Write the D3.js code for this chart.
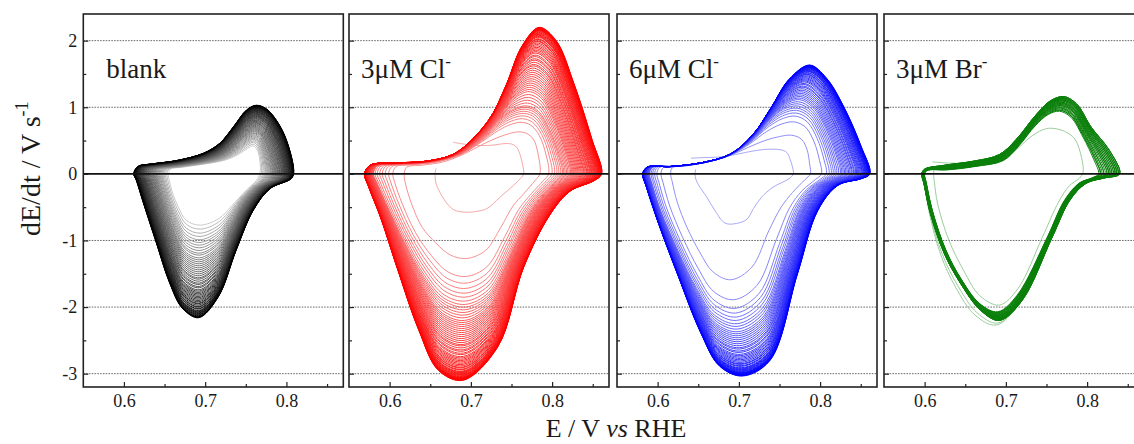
<!DOCTYPE html>
<html>
<head>
<meta charset="utf-8">
<script src="https://cdn.jsdelivr.net/npm/d3@7"></script>
<style>
  body { margin: 0; background: #fff; }
  svg { display: block; }
  text { font-family: "Liberation Serif", Tinos, "Times New Roman", Times, "Nimbus Roman", "DejaVu Serif", "Noto Serif", serif; fill: #1a1a1a; }
</style>
</head>
<body>
<svg id="chart" width="1134" height="444"></svg>
<script>
// ---------------------------------------------------------------
// Axis ticks and panel names
// ---------------------------------------------------------------
const xTicks = [0.6, 0.7, 0.8];
const xMinorTicks = [0.65, 0.75, 0.85];
const yTicks = [-3, -2, -1, 0, 1, 2];
const yMinorTicks = [-2.5, -1.5, -0.5, 0.5, 1.5];
const panelNames = ["blank", "3\u03BCM Cl", "6\u03BCM Cl", "3\u03BCM Br"];
const panelCharges = ["", "-", "-", "-"];

// ---------------------------------------------------------------
// Oscillation loops, [E (V vs RHE), dE/dt (V/s)].
// Each loop runs from its left turning point along the anodic
// branch, round the right turning point and back along the
// cathodic branch (24 matching points per loop).
// ---------------------------------------------------------------

// blank
const blankFirst = [[0.655,0.00],[0.657,0.07],[0.672,0.10],[0.695,0.14],[0.715,0.18],[0.728,0.22],[0.742,0.30],[0.752,0.38],[0.759,0.42],[0.764,0.36],[0.767,0.22],[0.768,0.08],[0.767,0.00],[0.763,-0.10],[0.751,-0.24],[0.741,-0.37],[0.732,-0.49],[0.717,-0.67],[0.694,-0.77],[0.677,-0.70],[0.667,-0.50],[0.661,-0.33],[0.657,-0.16],[0.655,-0.05]];
const blankLast = [[0.612,0.00],[0.617,0.11],[0.635,0.15],[0.665,0.20],[0.698,0.31],[0.718,0.46],[0.735,0.71],[0.751,0.96],[0.763,1.03],[0.776,0.97],[0.792,0.72],[0.803,0.40],[0.809,0.02],[0.806,-0.07],[0.780,-0.22],[0.759,-0.55],[0.738,-1.15],[0.716,-1.85],[0.692,-2.16],[0.672,-2.02],[0.656,-1.63],[0.640,-1.04],[0.624,-0.44],[0.615,-0.09]];
const blankStart = [];
// cathodic minimum of every cycle, in recording order
const blankMinima = [-0.77,-0.83,-0.89,-0.94,-0.99,-1.03,-1.07,-1.11,-1.15,-1.19,-1.22,-1.26,-1.29,-1.32,-1.35,-1.38,-1.41,-1.44,-1.47,-1.50,-1.53,-1.56,-1.58,-1.61,-1.64,-1.66,-1.69,-1.71,-1.74,-1.76,-1.78,-1.80,-1.82,-1.84,-1.86,-1.88,-1.90,-1.92,-1.94,-1.95,-1.97,-1.99,-2.00,-2.02,-2.03,-2.05,-2.06,-2.07,-2.08,-2.09,-2.10,-2.11,-2.12,-2.13,-2.14,-2.145,-2.15,-2.155,-2.16];

// 3 uM chloride
const redFirst = [[0.656,0.00],[0.657,0.08],[0.664,0.25],[0.696,0.44],[0.712,0.425],[0.726,0.43],[0.738,0.45],[0.746,0.455],[0.752,0.44],[0.757,0.39],[0.761,0.27],[0.764,0.12],[0.765,0.00],[0.761,-0.07],[0.749,-0.21],[0.735,-0.36],[0.720,-0.52],[0.706,-0.565],[0.692,-0.575],[0.679,-0.54],[0.669,-0.42],[0.662,-0.28],[0.657,-0.14],[0.656,-0.05]];
const redSecond = [[0.618,0.00],[0.621,0.10],[0.640,0.13],[0.666,0.18],[0.692,0.30],[0.714,0.44],[0.732,0.54],[0.746,0.60],[0.758,0.63],[0.768,0.61],[0.777,0.52],[0.783,0.28],[0.785,0.00],[0.779,-0.10],[0.765,-0.30],[0.752,-0.48],[0.737,-0.80],[0.718,-1.15],[0.695,-1.27],[0.675,-1.22],[0.657,-1.04],[0.640,-0.80],[0.627,-0.45],[0.619,-0.12]];
const redMid = [[0.580,0.00],[0.585,0.12],[0.610,0.15],[0.648,0.18],[0.685,0.30],[0.716,0.58],[0.737,0.84],[0.754,0.98],[0.769,1.02],[0.783,0.94],[0.797,0.66],[0.809,0.28],[0.814,0.00],[0.807,-0.10],[0.790,-0.30],[0.771,-0.62],[0.750,-1.18],[0.722,-1.82],[0.693,-2.00],[0.666,-1.90],[0.642,-1.55],[0.618,-1.02],[0.597,-0.48],[0.584,-0.12]];
const redLast = [[0.569,0.00],[0.576,0.13],[0.605,0.165],[0.645,0.19],[0.682,0.32],[0.722,0.81],[0.743,1.32],[0.763,1.92],[0.784,2.20],[0.805,2.00],[0.827,1.35],[0.849,0.52],[0.861,0.00],[0.852,-0.10],[0.822,-0.26],[0.797,-0.62],[0.765,-1.40],[0.733,-2.60],[0.690,-3.10],[0.660,-2.95],[0.636,-2.35],[0.610,-1.44],[0.589,-0.66],[0.574,-0.19]];
const redStart = [[0.678,0.475],[0.687,0.455]];
const redMinima = [-0.575,-1.27,-1.54,-1.64,-1.72,-1.79,-1.85,-1.91,-1.96,-2.00,-2.04,-2.08,-2.12,-2.16,-2.20,-2.23,-2.26,-2.29,-2.32,-2.35,-2.38,-2.41,-2.44,-2.47,-2.50,-2.53,-2.56,-2.58,-2.61,-2.64,-2.66,-2.69,-2.71,-2.74,-2.76,-2.78,-2.80,-2.82,-2.84,-2.86,-2.88,-2.90,-2.91,-2.93,-2.94,-2.96,-2.97,-2.98,-2.99,-3.00,-3.01,-3.02,-3.03,-3.04,-3.05,-3.055,-3.06,-3.065,-3.07,-3.075,-3.08,-3.085,-3.09,-3.095,-3.10];

// 6 uM chloride
const blueFirst = [[0.646,0.00],[0.647,0.07],[0.656,0.16],[0.684,0.265],[0.700,0.30],[0.716,0.34],[0.730,0.365],[0.742,0.37],[0.752,0.36],[0.759,0.32],[0.763,0.22],[0.766,0.10],[0.767,0.00],[0.762,-0.07],[0.742,-0.20],[0.728,-0.35],[0.718,-0.52],[0.710,-0.68],[0.697,-0.745],[0.683,-0.74],[0.671,-0.56],[0.660,-0.34],[0.651,-0.18],[0.647,-0.08]];
const blueSecond = [[0.616,0.00],[0.618,0.09],[0.636,0.12],[0.662,0.18],[0.690,0.28],[0.712,0.40],[0.732,0.50],[0.750,0.56],[0.765,0.58],[0.777,0.52],[0.784,0.36],[0.787,0.15],[0.788,0.00],[0.781,-0.09],[0.766,-0.28],[0.752,-0.50],[0.737,-0.85],[0.716,-1.40],[0.690,-1.59],[0.668,-1.47],[0.652,-1.18],[0.636,-0.80],[0.624,-0.42],[0.618,-0.12]];
const blueMid = [[0.590,0.00],[0.594,0.10],[0.620,0.11],[0.658,0.17],[0.690,0.29],[0.716,0.52],[0.737,0.80],[0.755,0.97],[0.772,1.02],[0.788,0.92],[0.803,0.62],[0.814,0.26],[0.818,0.00],[0.810,-0.08],[0.792,-0.22],[0.775,-0.52],[0.757,-1.15],[0.730,-2.00],[0.698,-2.25],[0.670,-2.12],[0.648,-1.72],[0.625,-1.15],[0.604,-0.56],[0.593,-0.14]];
const blueLast = [[0.5816,0.00],[0.587,0.10],[0.615,0.11],[0.655,0.17],[0.690,0.30],[0.718,0.60],[0.740,1.00],[0.762,1.42],[0.787,1.63],[0.808,1.43],[0.830,0.98],[0.850,0.42],[0.861,0.00],[0.851,-0.07],[0.822,-0.17],[0.797,-0.55],[0.772,-1.50],[0.738,-2.80],[0.704,-3.03],[0.676,-2.88],[0.653,-2.38],[0.625,-1.52],[0.601,-0.74],[0.586,-0.19]];
const blueStart = [[0.641,0.235],[0.658,0.245],[0.675,0.252]];
const blueMinima = [-0.745,-1.59,-1.89,-2.02,-2.09,-2.15,-2.20,-2.25,-2.29,-2.33,-2.37,-2.40,-2.43,-2.46,-2.49,-2.52,-2.55,-2.58,-2.61,-2.63,-2.66,-2.68,-2.71,-2.73,-2.75,-2.77,-2.79,-2.81,-2.83,-2.85,-2.86,-2.88,-2.89,-2.91,-2.92,-2.93,-2.94,-2.95,-2.96,-2.97,-2.98,-2.985,-2.99,-2.995,-3.00,-3.005,-3.01,-3.015,-3.02,-3.025,-3.03,-3.035];

// 3 uM bromide
const greenFirst = [[0.611,0.00],[0.612,0.09],[0.620,0.16],[0.645,0.16],[0.685,0.20],[0.708,0.32],[0.730,0.55],[0.745,0.66],[0.755,0.685],[0.772,0.64],[0.785,0.52],[0.793,0.25],[0.795,0.02],[0.790,-0.07],[0.778,-0.18],[0.765,-0.42],[0.745,-0.95],[0.715,-1.72],[0.692,-1.97],[0.668,-1.83],[0.648,-1.45],[0.630,-1.00],[0.616,-0.45],[0.612,-0.12]];
const greenBandInner = [[0.600,0.00],[0.603,0.05],[0.628,0.06],[0.662,0.11],[0.697,0.20],[0.716,0.42],[0.736,0.72],[0.752,0.89],[0.766,0.94],[0.780,0.85],[0.795,0.55],[0.808,0.22],[0.814,0.00],[0.806,-0.06],[0.790,-0.14],[0.772,-0.40],[0.751,-0.95],[0.714,-1.82],[0.690,-2.07],[0.668,-1.95],[0.645,-1.58],[0.626,-1.14],[0.610,-0.57],[0.602,-0.13]];
const greenBandOuter = [[0.5964,0.00],[0.600,0.07],[0.625,0.13],[0.660,0.19],[0.692,0.29],[0.713,0.52],[0.736,0.87],[0.754,1.09],[0.771,1.16],[0.787,1.05],[0.805,0.70],[0.827,0.36],[0.840,0.00],[0.822,-0.06],[0.799,-0.14],[0.779,-0.39],[0.757,-0.95],[0.720,-1.90],[0.692,-2.20],[0.669,-2.05],[0.644,-1.64],[0.624,-1.19],[0.607,-0.59],[0.599,-0.14]];
const greenEarly = [[0.598,0.00],[0.601,0.06],[0.625,0.10],[0.660,0.15],[0.693,0.24],[0.715,0.46],[0.736,0.78],[0.752,0.95],[0.766,1.00],[0.780,0.90],[0.797,0.58],[0.810,0.24],[0.816,0.00],[0.808,-0.06],[0.792,-0.15],[0.774,-0.42],[0.752,-1.00],[0.716,-1.95],[0.688,-2.27],[0.662,-2.12],[0.638,-1.70],[0.620,-1.22],[0.606,-0.60],[0.600,-0.14]];
const greenStart = [[0.6095,0.18],[0.625,0.165]];
const greenMinima = [-1.97,-2.27,-2.24,-2.07,-2.08,-2.08,-2.09,-2.10,-2.10,-2.11,-2.12,-2.12,-2.13,-2.13,-2.14,-2.14,-2.15,-2.15,-2.16,-2.16,-2.17,-2.17,-2.17,-2.18,-2.18,-2.18,-2.19,-2.19,-2.19,-2.20,-2.20,-2.20];

// ---------------------------------------------------------------
// Panel set-up
// ---------------------------------------------------------------
const panels = [
  { keys: [blankFirst, blankLast], start: blankStart, minima: blankMinima,
    light: "#cacaca", dark: "#000000", nLight: 0, gamma: 0.6, labelDx: 23 },
  { keys: [redFirst, redSecond, redMid, redLast], start: redStart, minima: redMinima,
    light: "#f6a8a8", dark: "#ff0000", nLight: 0, gamma: 0.5, labelDx: 12 },
  { keys: [blueFirst, blueSecond, blueMid, blueLast], start: blueStart, minima: blueMinima,
    light: "#a8a8f6", dark: "#0000ff", nLight: 0, gamma: 0.5, labelDx: 12 },
  { keys: [greenFirst, greenBandInner, greenBandOuter, greenEarly], start: greenStart, minima: greenMinima,
    light: "#9dcd9d", dark: "#0a800a", nLight: 3, gamma: 0, labelDx: 12 }
];

const panelLeft = [83.3, 349, 617, 884];
const panelW = 260, plotTop = 14, plotBottom = 387;

const svg = d3.select("#chart");

const x = d3.scaleLinear().domain([0.55, 0.87]).range([0, panelW]);
const y = d3.scaleLinear().domain([-3.2, 2.4]).range([plotBottom, plotTop]);

const closedLine = d3.line().x(d => x(d[0])).y(d => y(d[1]))
  .curve(d3.curveCatmullRomClosed.alpha(0.5));
const openLine = d3.line().x(d => x(d[0])).y(d => y(d[1]))
  .curve(d3.curveCatmullRom.alpha(0.5));

// loop shape for a cycle whose cathodic minimum is m, taken between
// the two neighbouring reference loops
function loopFor(keys, m) {
  const mins = keys.map(k => d3.min(k, p => p[1]));
  let j = 0;
  while (j < keys.length - 2 && m < mins[j + 1]) j++;
  const t = (m - mins[j]) / (mins[j + 1] - mins[j]);
  const a = keys[j], b = keys[j + 1];
  return a.map((p, k) => [p[0] + (b[k][0] - p[0]) * t, p[1] + (b[k][1] - p[1]) * t]);
}

const defs = svg.append("defs");

panels.forEach((P, pi) => {
  const g = svg.append("g").attr("transform", `translate(${panelLeft[pi]},0)`);

  defs.append("clipPath").attr("id", "clip" + pi)
    .append("rect").attr("x", 0).attr("y", plotTop).attr("width", panelW).attr("height", plotBottom - plotTop);

  // dotted grid lines
  g.selectAll(".grid").data(yTicks.filter(v => v !== 0)).join("line")
    .attr("x1", 0).attr("x2", panelW)
    .attr("y1", d => y(d)).attr("y2", d => y(d))
    .attr("stroke", "#6a6a6a").attr("stroke-width", 1)
    .attr("stroke-dasharray", "1.6,1.2");

  // cycles, earliest first
  const cg = g.append("g").attr("clip-path", `url(#clip${pi})`);
  const n = P.minima.length;
  const interp = d3.interpolateRgb(P.light, P.dark);
  P.minima.forEach((m, i) => {
    const tt = i < P.nLight ? 0 : Math.pow((i - P.nLight) / Math.max(1, n - 1 - P.nLight), P.gamma);
    const pts = loopFor(P.keys, m);
    let d;
    if (i === 0 && P.start.length) {
      d = openLine(P.start.concat(pts.slice(3), pts.slice(0, 2)));
    } else {
      d = closedLine(pts);
    }
    cg.append("path").attr("d", d)
      .attr("fill", "none")
      .attr("stroke", interp(tt))
      .attr("stroke-width", 1.0);
  });

  // zero line
  g.append("line").attr("x1", 0).attr("x2", panelW)
    .attr("y1", y(0)).attr("y2", y(0))
    .attr("stroke", "#111").attr("stroke-width", 1.6);

  // inward ticks
  g.append("g").attr("class", "xaxis").attr("transform", `translate(0,${plotBottom})`)
    .call(d3.axisBottom(x).tickValues(xTicks).tickSize(-5).tickPadding(7).tickFormat(d3.format(".1f")));
  g.append("g").attr("transform", `translate(0,${plotBottom})`)
    .call(d3.axisBottom(x).tickValues(xMinorTicks).tickSize(-3).tickFormat(""));
  const ya = g.append("g")
    .call(d3.axisLeft(y).tickValues(yTicks).tickSize(-5).tickPadding(6)
      .tickFormat(pi === 0 ? d3.format("d") : ""));
  g.append("g")
    .call(d3.axisLeft(y).tickValues(yMinorTicks).tickSize(-3).tickFormat(""));

  g.selectAll(".domain").remove();
  g.selectAll("g").attr("font-family", null).attr("font-size", null);
  g.selectAll(".tick line").attr("stroke", "#222").attr("stroke-width", 1.2);
  g.selectAll(".tick text").style("font-size", "18px").attr("fill", "#1a1a1a");
  ya.selectAll(".tick text").text(d => pi === 0 ? (d < 0 ? "-" + Math.abs(d) : String(d)) : "");

  // frame
  g.append("rect").attr("x", 0).attr("y", plotTop)
    .attr("width", panelW).attr("height", plotBottom - plotTop)
    .attr("fill", "none").attr("stroke", "#222").attr("stroke-width", 1.6);

  // panel label
  const lab = g.append("text").attr("x", P.labelDx).attr("y", 78)
    .style("font-size", "27px");
  lab.append("tspan").text(panelNames[pi]);
  if (panelCharges[pi]) {
    lab.append("tspan").attr("dy", -11).style("font-size", "17px").text(panelCharges[pi]);
  }
});

// axis titles
const yt = svg.append("text")
  .attr("transform", "translate(40,236) rotate(-90)")
  .style("font-size", "28px");
yt.append("tspan").text("dE/dt / V s");
yt.append("tspan").attr("dy", -12).style("font-size", "18px").text("-1");

const xt = svg.append("text").attr("x", 616).attr("y", 437)
  .attr("text-anchor", "middle").style("font-size", "26px");
xt.append("tspan").text("E / V ");
xt.append("tspan").style("font-style", "italic").text("vs");
xt.append("tspan").text(" RHE");
</script>
</body>
</html>
